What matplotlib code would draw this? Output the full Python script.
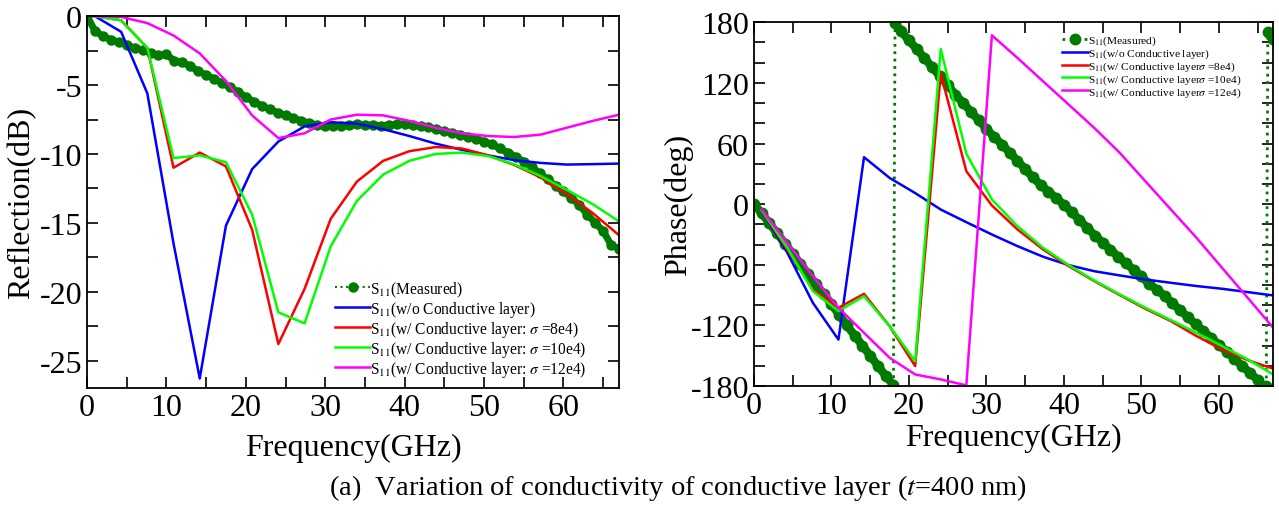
from matplotlib import pyplot as plt
from matplotlib.ticker import MultipleLocator
import numpy as np

plt.rcParams.update({'font.family': 'Liberation Serif',
'mathtext.fontset': 'stix',
'axes.unicode_minus': False,
'xtick.direction': 'in',
'ytick.direction': 'in',
'xtick.top': True,
'ytick.right': True,
'axes.linewidth': 1.3})

# Simulated frequency grid (GHz)
f_sim = [1, 4.3, 7.6, 10.9, 14.2, 17.5, 20.8, 24.1, 27.4, 30.7, 34, 37.3, 40.6,
         43.9, 47.2, 50.5, 53.8, 57.1, 60.4, 63.7, 67]

# Reflection (dB)
s11_wo = [0, -1.13, -5.6, -16.5, -26.3, -15.2, -11.1, -9.1, -8.0, -7.7, -7.8, -8.2, -8.7,
          -9.25, -9.7, -10.1, -10.45, -10.65, -10.77, -10.74, -10.7]
s11_8e4 = [0, -0.3, -2.3, -11.0, -9.9, -10.9, -15.5, -23.8, -19.8, -14.7, -12.0, -10.5, -9.8,
           -9.5, -9.6, -10.1, -10.8, -11.7, -12.9, -14.3, -15.9]
s11_10e4 = [0, -0.3, -2.3, -10.3, -10.1, -10.6, -14.4, -21.5, -22.3, -16.7, -13.4, -11.5, -10.5,
            -10.0, -9.9, -10.15, -10.75, -11.6, -12.6, -13.65, -14.9]
s11_12e4 = [0, -0.05, -0.5, -1.4, -2.7, -4.7, -7.2, -8.85, -8.5, -7.5, -7.15, -7.2, -7.6,
            -8.1, -8.5, -8.7, -8.77, -8.6, -8.1, -7.6, -7.15]

f_meas = list(range(0, 68))
s11_meas = [0, -1.05, -1.45, -1.7, -1.9, -2.1, -2.3, -2.45, -2.65, -2.85,
            -2.75, -3.25, -3.35, -3.6, -4.0, -4.25, -4.55, -4.85, -5.15, -5.5,
            -5.85, -6.2, -6.5, -6.75, -7.0, -7.2, -7.4, -7.6, -7.75, -7.9,
            -8.0, -8.0, -7.95, -7.9, -7.85, -7.9, -7.9, -7.95, -7.9, -7.85,
            -7.85, -7.9, -7.95, -8.05, -8.2, -8.35, -8.45, -8.6, -8.75, -8.9,
            -9.1, -9.3, -9.6, -9.9, -10.2, -10.55, -10.95, -11.4, -11.85, -12.3,
            -12.7, -13.2, -13.7, -14.4, -15.0, -15.6, -16.6, -16.9]

# Phase (deg)
ph_wo = [-6, -48, -97.6, -134, 46.5, 26, 11, -5.3, -17.8, -30, -41.5, -52, -60.3,
         -66.3, -70.5, -74.5, -77.8, -81, -83.7, -87, -90.3]
ph_8e4 = [-6, -45, -84.4, -102.5, -88.7, -120.7, -160.2, 129.2, 32.6, -1.3, -25, -44.8, -61.3,
          -76.1, -90, -103.5, -115.7, -130.5, -143.7, -154.3, -162.8]
ph_10e4 = [-6, -43, -86, -105.8, -91, -120.7, -155.3, 153.6, 50, 4.6, -21.8, -43.2, -60.3,
           -75.5, -89.3, -102.5, -114.7, -127.3, -140.4, -153.6, -168.5]
ph_12e4 = [-5.3, -38.2, -71.2, -102.5, -127.3, -152, -168.5, -173.4, -179.3, 167.1, 144.7, 121.6, 98.6,
           75.5, 50.8, 22.7, -5.3, -33.3, -63, -92.6, -122.3]

f_ph_meas = list(range(0, 19)) + [18.2] + list(range(19, 66)) + [65.6, 66.1, 66.3, 67]
ph_meas = [0, -9, -19, -29, -39, -49, -59, -69, -79, -89,
           -99, -109.5, -120, -130, -140, -150, -160, -170, -179,
           179,
           171, 162, 153.5, 144.5, 135.5, 126.5, 117.5, 108.5, 100, 91.5,
           83, 74.5, 66.5, 59, 51, 43, 34.5, 26.5, 19, 12.5,
           6, -0.5, -8, -15.5, -23.5, -31, -38, -45, -52, -58.5,
           -65, -71.5, -79, -84.5, -91, -98, -105, -112, -119, -125.5,
           -132.5, -139, -146, -153, -160, -167, -174,
           -179.5, -180, 170, 163]

c_meas = '#007a00'
colors = ['#0000ff', '#ff0000', '#00ff00', '#ff00ff']

# ----------------------------------------------------------------------------------------------------
def plot_band(ax, x, y, lw):
    # thick solid band under the measured dots, broken at the +-180 wraps
    x = np.asarray(x, float)
    y = np.asarray(y, float)
    cuts = np.where(np.abs(np.diff(y)) > 180)[0] + 1
    for xs, ys in zip(np.split(x, cuts), np.split(y, cuts)):
        ax.plot(xs, ys, color=c_meas, lw=lw, solid_capstyle='round')

fig = plt.figure(figsize=(12.79, 5.06), dpi=100)

# ----------------------------------------------------------------------------------------------------
ax1 = fig.add_axes([0.068, 0.231, 0.416, 0.735])
plot_band(ax1, f_meas, s11_meas, 5)
ax1.plot(f_meas, s11_meas, color=c_meas, ls=':', lw=1.5, marker='o', ms=6.5, label=r'S$_{11}$(Measured)')
ax1.plot(f_sim, s11_wo, color=colors[0], lw=1.8, label=r'S$_{11}$(w/o Conductive layer)')
ax1.plot(f_sim, s11_8e4, color=colors[1], lw=1.8, label=r'S$_{11}$(w/ Conductive layer: $\sigma$ =8e4)')
ax1.plot(f_sim, s11_10e4, color=colors[2], lw=1.8, label=r'S$_{11}$(w/ Conductive layer: $\sigma$ =10e4)')
ax1.plot(f_sim, s11_12e4, color=colors[3], lw=1.8, label=r'S$_{11}$(w/ Conductive layer: $\sigma$ =12e4)')
ax1.set_xlim(0, 67)
ax1.set_ylim(-27, 0)
ax1.xaxis.set_major_locator(MultipleLocator(10))
ax1.xaxis.set_minor_locator(MultipleLocator(5))
ax1.yaxis.set_major_locator(MultipleLocator(5))
ax1.yaxis.set_minor_locator(MultipleLocator(2.5))
ax1.tick_params(which='both', labelsize=23, length=8, width=1.2)
ax1.set_xlabel('Frequency(GHz)', fontsize=23, labelpad=8)
ax1.set_ylabel('Reflection(dB)', fontsize=23, labelpad=2)
handles, labels = ax1.get_legend_handles_labels()
ax1.legend(handles, labels, loc='upper left', bbox_to_anchor=(0.262, 0.446), bbox_transform=fig.transFigure,
           frameon=False, fontsize=11.2, handlelength=2.25, handletextpad=0, labelspacing=0.0,
           borderpad=0, borderaxespad=0, numpoints=1)

# ----------------------------------------------------------------------------------------------------
ax2 = fig.add_axes([0.5895, 0.235, 0.406, 0.719])
plot_band(ax2, f_ph_meas, ph_meas, 6)
ax2.plot(f_ph_meas, ph_meas, color=c_meas, ls=':', lw=2, marker='o', ms=7.5, label=r'S$_{11}$(Measured)')
ax2.plot(f_sim, ph_wo, color=colors[0], lw=1.8, label=r'S$_{11}$(w/o Conductive layer)')
ax2.plot(f_sim, ph_8e4, color=colors[1], lw=1.8, label=r'S$_{11}$(w/ Conductive layer$\sigma$ =8e4)')
ax2.plot(f_sim, ph_10e4, color=colors[2], lw=1.8, label=r'S$_{11}$(w/ Conductive layer$\sigma$ =10e4)')
ax2.plot(f_sim, ph_12e4, color=colors[3], lw=1.8, label=r'S$_{11}$(w/ Conductive layer$\sigma$ =12e4)')
ax2.set_xlim(0, 67)
ax2.set_ylim(-180, 180)
ax2.xaxis.set_major_locator(MultipleLocator(10))
ax2.xaxis.set_minor_locator(MultipleLocator(5))
ax2.yaxis.set_major_locator(MultipleLocator(60))
ax2.yaxis.set_minor_locator(MultipleLocator(20))
ax2.tick_params(which='both', labelsize=23, length=8, width=1.2)
ax2.set_xlabel('Frequency(GHz)', fontsize=23, labelpad=2)
ax2.set_ylabel('Phase(deg)', fontsize=23, labelpad=-2)
handles, labels = ax2.get_legend_handles_labels()
ax2.legend(handles, labels, loc='upper left', bbox_to_anchor=(0.83, 0.932), bbox_transform=fig.transFigure,
           frameon=False, fontsize=8.2, handlelength=2.3, handletextpad=0, labelspacing=-0.05,
           borderpad=0, borderaxespad=0, numpoints=1)

fig.text(0.53, 0.035, r'(a)  Variation of conductivity of conductive layer ($t$=400 nm)',
         fontsize=20.5, ha='center', va='center')

plt.savefig('out.png', dpi=100)
